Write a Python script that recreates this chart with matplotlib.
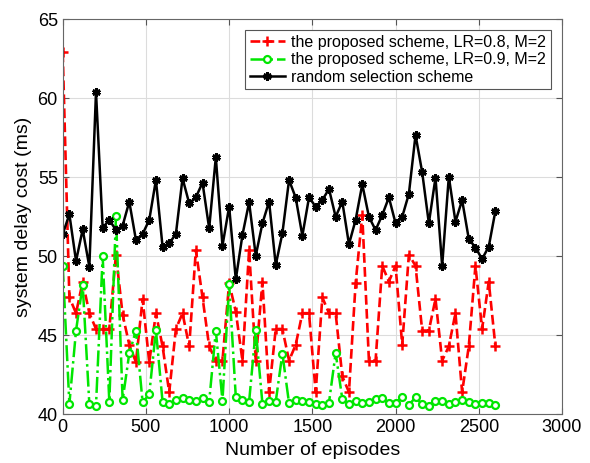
import numpy as np
import matplotlib
matplotlib.use("Agg")
import matplotlib.pyplot as plt

plt.rcParams['font.family'] = ['Liberation Sans', 'DejaVu Sans']

episodes = np.arange(0, 2601, 40)

delay_lr08 = [62.9, 47.4, 46.4, 48.4, 46.4, 45.4, 45.4, 45.4, 50.1, 46.3,
              44.4, 43.3, 47.3, 43.3, 46.4, 44.3, 41.4, 45.4, 46.4, 44.3,
              50.4, 47.4, 44.3, 43.4, 43.4, 48.3, 46.5, 43.4, 50.4, 43.4,
              48.4, 41.4, 45.4, 45.4, 43.4, 44.4, 46.4, 46.4, 41.4, 47.4,
              46.4, 46.4, 42.4, 41.4, 48.3, 52.6, 43.4, 43.4, 49.4, 48.4,
              49.4, 44.4, 50.1, 49.4, 45.3, 45.3, 47.3, 43.4, 44.3, 46.4,
              41.4, 44.3, 49.4, 45.4, 48.4, 44.3]

delay_lr09 = [49.4, 40.65, 45.3, 48.2, 40.65, 40.55, 50.0, 40.8, 52.55, 40.9,
              43.86, 45.3, 40.75, 41.27, 45.35, 40.78, 40.62, 40.93, 41.0, 40.88,
              40.87, 41.0, 40.8, 45.28, 40.86, 48.23, 41.1, 40.88, 40.8, 45.36,
              40.68, 40.84, 40.8, 43.84, 40.7, 40.92, 40.84, 40.76, 40.65, 40.59,
              40.74, 43.88, 40.97, 40.63, 40.84, 40.74, 40.8, 40.95, 41.0, 40.7,
              40.74, 41.07, 40.59, 41.07, 40.63, 40.55, 40.84, 40.84, 40.63, 40.76,
              40.9, 40.8, 40.63, 40.7, 40.7, 40.59]

delay_random = [51.4, 52.66, 49.7, 51.7, 49.34, 60.4, 51.8, 52.3, 51.66, 51.94,
                53.46, 51.03, 51.41, 52.3, 54.83, 50.61, 50.82, 51.41, 54.94, 53.35,
                53.73, 54.66, 51.77, 56.27, 50.67, 53.14, 48.54, 51.35, 53.42, 50.04,
                52.09, 53.46, 49.45, 51.46, 54.83, 53.71, 51.3, 53.73, 53.14, 53.56,
                54.26, 52.5, 53.46, 50.76, 52.3, 54.56, 52.5, 51.66, 52.61, 53.73,
                52.09, 52.5, 53.95, 57.68, 55.32, 52.09, 54.98, 49.39, 55.04, 52.19,
                53.56, 51.1, 50.55, 49.83, 50.61, 52.87]

labels = ["the proposed scheme, LR=0.8, M=2",
          "the proposed scheme, LR=0.9, M=2",
          "random selection scheme"]

fig = plt.figure(figsize=(5.9, 4.63), dpi=100)
ax = fig.add_axes([0.1063, 0.1052, 0.8462, 0.8531])

ax.plot(episodes, delay_lr08, color='red', linestyle='--', linewidth=1.9,
        marker='+', markersize=7, markeredgewidth=1.8, label=labels[0])
ax.plot(episodes, delay_lr09, color='#00e600', linestyle='-.', linewidth=1.8,
        marker='o', markersize=5, markerfacecolor='white', markeredgewidth=1.6,
        label=labels[1])
ax.plot(episodes, delay_random, color='black', linestyle='-', linewidth=1.8,
        marker=(6, 2, 0), markersize=6, markeredgewidth=2.0, label=labels[2])

ax.set_xlim(0, 3000)
ax.set_ylim(40, 65)
ax.set_xticks(range(0, 3001, 500))
ax.set_yticks(range(40, 66, 5))
ax.grid(True, color='#dcdcdc', linewidth=0.8)
ax.set_axisbelow(True)
ax.tick_params(direction='in', top=True, right=True, labelsize=13,
               color='#555555', length=4)
for s in ax.spines.values():
    s.set_color('#666666')

ax.set_xlabel("Number of episodes", fontsize=14)
ax.set_ylabel("system delay cost (ms)", fontsize=14)

leg = ax.legend(loc='upper right', fontsize=11.5, handlelength=2.2,
                handletextpad=0.4, borderpad=0.3, labelspacing=0.15,
                borderaxespad=0, fancybox=False, framealpha=1,
                bbox_to_anchor=(0.978, 0.973))
leg.get_frame().set_edgecolor('#555555')
leg.get_frame().set_linewidth(0.8)

fig.savefig("out.png", dpi=100)
